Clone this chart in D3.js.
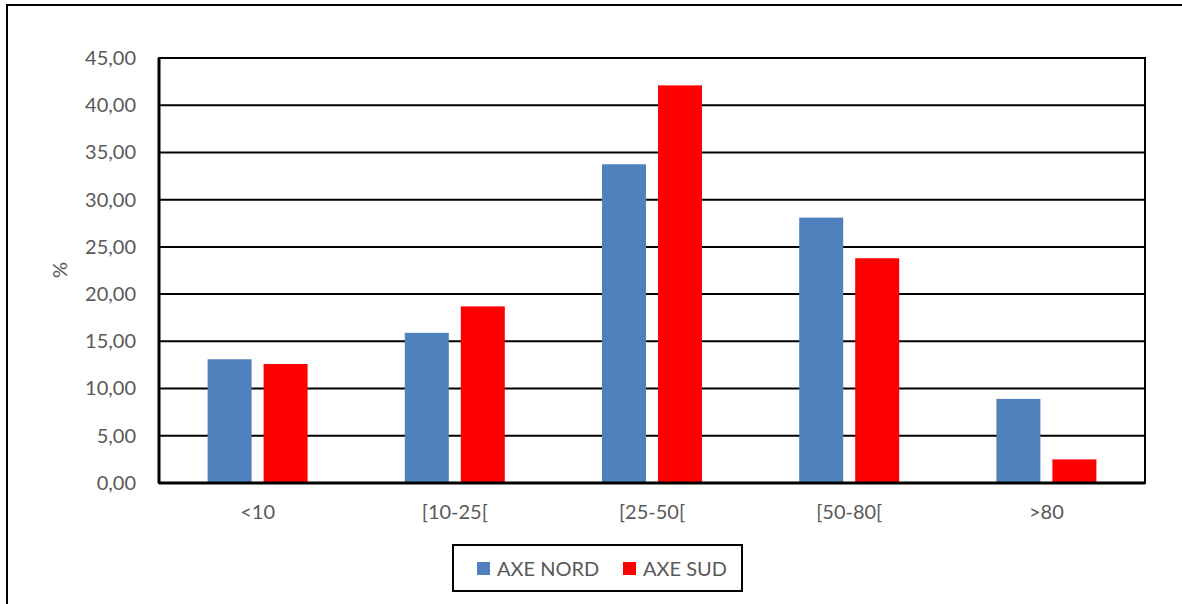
<!DOCTYPE html>
<html>
<head>
<meta charset="utf-8">
<script src="https://cdn.jsdelivr.net/npm/d3@7"></script>
<style>
  body { margin: 0; background: #fff; }
  text { font-family: Lato, "Open Sans", sans-serif; fill: #595959; }
</style>
</head>
<body>
<div id="chart"></div>
<script>
// Categories and series values
const categories = ['<10', '[10-25[', '[25-50[', '[50-80[', '>80'];
const seriesNames = ['AXE NORD', 'AXE SUD'];
const nordValues = [13.1, 15.9, 33.75, 28.1, 8.9];
const sudValues = [12.6, 18.7, 42.1, 23.8, 2.5];
const yTicks = [0, 5, 10, 15, 20, 25, 30, 35, 40, 45];
const colors = ['#4f81bd', '#ff0000'];

const svgWidth = 1182;
const svgHeight = 604;

// plot area
const margin = { top: 58, right: 37, bottom: 121, left: 159 };
const width = svgWidth - margin.left - margin.right;
const height = svgHeight - margin.top - margin.bottom;

const svg = d3
  .select('#chart')
  .append('svg')
  .attr('width', svgWidth)
  .attr('height', svgHeight);

// outer frame
svg
  .append('rect')
  .attr('x', 7)
  .attr('y', 5)
  .attr('width', svgWidth + 10)
  .attr('height', svgHeight + 10)
  .attr('fill', 'none')
  .attr('stroke', '#000')
  .attr('stroke-width', 2);

const chartGroup = svg
  .append('g')
  .attr('transform', `translate(${margin.left}, ${margin.top})`);

const x0 = d3.scaleBand().domain(categories).range([0, width]).padding(0);
const x1 = d3
  .scaleBand()
  .domain(seriesNames)
  .range([0, 100])
  .paddingInner(12 / 56);

const y = d3.scaleLinear().domain([0, 45]).range([height, 0]);

// gridlines
chartGroup
  .selectAll('.grid')
  .data(yTicks)
  .enter()
  .append('line')
  .attr('x1', 0)
  .attr('x2', width)
  .attr('y1', (d) => y(d))
  .attr('y2', (d) => y(d))
  .attr('stroke', '#000')
  .attr('stroke-width', 2);

// bars
const rows = categories.map((c, i) => ({
  cat: c,
  vals: [nordValues[i], sudValues[i]],
}));

const groups = chartGroup
  .selectAll('.group')
  .data(rows)
  .enter()
  .append('g')
  .attr(
    'transform',
    (d) => `translate(${x0(d.cat) + x0.bandwidth() / 2 - 50}, 0)`
  );

groups
  .selectAll('rect')
  .data((d) => d.vals.map((v, j) => ({ name: seriesNames[j], v: v, j: j })))
  .enter()
  .append('rect')
  .attr('x', (d) => x1(d.name))
  .attr('y', (d) => y(d.v))
  .attr('width', x1.bandwidth())
  .attr('height', (d) => height - y(d.v))
  .attr('fill', (d) => colors[d.j]);

// plot border
chartGroup
  .append('rect')
  .attr('width', width)
  .attr('height', height)
  .attr('fill', 'none')
  .attr('stroke', '#000')
  .attr('stroke-width', 2);

// axes lines
chartGroup
  .append('line')
  .attr('x1', 0)
  .attr('x2', 0)
  .attr('y1', 0)
  .attr('y2', height)
  .attr('stroke', '#000')
  .attr('stroke-width', 3);
chartGroup
  .append('line')
  .attr('x1', 0)
  .attr('x2', width)
  .attr('y1', height)
  .attr('y2', height)
  .attr('stroke', '#000')
  .attr('stroke-width', 3);

// y axis labels
const leftAxis = d3
  .axisLeft(y)
  .tickValues(yTicks)
  .tickSize(0)
  .tickPadding(23)
  .tickFormat((d) => d3.format('.2f')(d).replace('.', ','));
const yAxis = chartGroup.append('g').call(leftAxis);
yAxis.select('.domain').remove();
yAxis.selectAll('text').attr('font-size', '20px').attr('fill', '#595959');

// x axis labels
const bottomAxis = d3.axisBottom(x0).tickSize(0).tickPadding(22);
const xAxis = chartGroup
  .append('g')
  .attr('transform', `translate(0, ${height})`)
  .call(bottomAxis);
xAxis.select('.domain').remove();
xAxis.selectAll('text').attr('font-size', '20px').attr('fill', '#595959');

// y title
svg
  .append('text')
  .attr('transform', 'translate(67, 270) rotate(-90)')
  .attr('text-anchor', 'middle')
  .attr('font-size', '20px')
  .text('%');

// legend
const legend = svg.append('g').attr('transform', 'translate(453, 545)');
legend
  .append('rect')
  .attr('width', 289)
  .attr('height', 46)
  .attr('fill', '#fff')
  .attr('stroke', '#000')
  .attr('stroke-width', 2);

const legendX = [24, 170];
seriesNames.forEach((name, i) => {
  legend
    .append('rect')
    .attr('x', legendX[i])
    .attr('y', 17)
    .attr('width', 13)
    .attr('height', 13)
    .attr('fill', colors[i]);
  legend
    .append('text')
    .attr('x', legendX[i] + 20)
    .attr('y', 31)
    .attr('font-size', '20px')
    .text(name);
});
</script>
</body>
</html>
